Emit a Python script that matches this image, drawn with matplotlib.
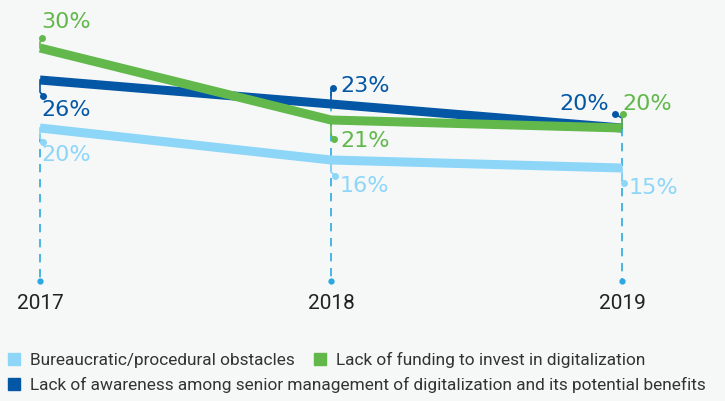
import numpy as np
import matplotlib.pyplot as plt
from matplotlib.lines import Line2D

# dados
anos = [2017, 2018, 2019]
burocracia = [20, 16, 15]
financiamento = [30, 21, 20]
consciencia = [26, 23, 20]

nomes = ['Bureaucratic/procedural obstacles',
         'Lack of funding to invest in digitalization',
         'Lack of awareness among senior management of digitalization and its potential benefits']

c_claro = '#8DD6F8'
c_verde = '#62B84A'
c_escuro = '#0457A5'
c_tracejado = '#2AA9E1'
fundo = '#F6F8F8'

# escala: 8 px por ponto percentual, 291 px por ano
fig = plt.figure(figsize=(7.25, 4.01), dpi=100)
fig.patch.set_facecolor(fundo)
ax = fig.add_axes([0, 0, 1, 1])
ax.set_facecolor(fundo)
ax.set_xlim(2017 - 40 / 291, 2017 + 685 / 291)
ax.set_ylim(30 - 353 / 8, 30 + 48 / 8)
ax.axis('off')

fonte_num = ['DejaVu Sans']
fonte_txt = ['Roboto', 'DejaVu Sans']

# linhas verticais tracejadas
topo_tracejado = [19.2, 25.0, 20.0]
for ano, topo in zip(anos, topo_tracejado):
    ax.plot([ano, ano], [topo, 0.9], color=c_tracejado, lw=1.2,
            dashes=(5, 4), zorder=1)
    ax.plot(ano, 0.9, 'o', color=c_tracejado, ms=3.5, zorder=2)
    ax.text(ano, -1.9, str(ano), ha='center', va='center', fontsize=15,
            color='#222222', family=fonte_txt)

series = [(burocracia, c_claro), (consciencia, c_escuro), (financiamento, c_verde)]
for vals, cor in series:
    ax.plot(anos, vals, color=cor, lw=6.5, solid_capstyle='butt', zorder=3)

# rótulos: (série, índice do ano, deslocamento do ponto em px, deslocamento do texto em px, alinhamento)
rotulos = [
    (financiamento, 0, c_verde, (2, 10), (1, 26), 'left'),
    (consciencia, 0, c_escuro, (3, -16), (1, -30), 'left'),
    (burocracia, 0, c_claro, (3, -14), (1, -27), 'left'),
    (consciencia, 1, c_escuro, (2, 16), (9, 18), 'left'),
    (financiamento, 1, c_verde, (3, -19), (9, -21), 'left'),
    (burocracia, 1, c_claro, (4, -16), (9, -26), 'left'),
    (consciencia, 2, c_escuro, (-7, 14), (-13, 24), 'right'),
    (financiamento, 2, c_verde, (1, 14), (0, 24), 'left'),
    (burocracia, 2, c_claro, (2, -15), (7, -20), 'left'),
]
trans = ax.transData
for vals, i, cor, (dx, dy), (tx, ty), ha in rotulos:
    x0, y0 = anos[i], vals[i]
    px, py = trans.transform((x0, y0))
    meio = trans.inverted().transform((px, py + (dy - 4 if dy > 0 else dy + 4)))
    ponto = trans.inverted().transform((px + dx, py + dy))
    ax.plot([x0, x0, ponto[0]], [y0, meio[1], ponto[1]], color=cor, lw=1.2, zorder=4)
    ax.plot(ponto[0], ponto[1], 'o', color=cor, ms=4, zorder=5)
    ax.annotate(f'{vals[i]}%', (x0, y0), xytext=(tx, ty), textcoords='offset pixels',
                ha=ha, va='center', fontsize=16, color=cor, family=fonte_num, zorder=6)

# legenda
def quadrado(cor):
    return Line2D([], [], marker='s', ls='', color=cor, ms=9)

leg1 = ax.legend([quadrado(c_claro), quadrado(c_verde)], nomes[:2], ncol=2,
                 loc='upper left', bbox_to_anchor=(0.003, 0.135), frameon=False,
                 handlelength=0.8, handletextpad=0.5, columnspacing=1.1,
                 borderaxespad=0, borderpad=0.3,
                 prop={'family': fonte_txt, 'size': 12.4}, labelcolor='#333333')
ax.add_artist(leg1)
ax.legend([quadrado(c_escuro)], nomes[2:], loc='upper left',
          bbox_to_anchor=(0.003, 0.072), frameon=False,
          handlelength=0.8, handletextpad=0.5, borderaxespad=0, borderpad=0.3,
          prop={'family': fonte_txt, 'size': 12.4}, labelcolor='#333333')

fig.savefig('out.png', dpi=100, facecolor=fundo)
